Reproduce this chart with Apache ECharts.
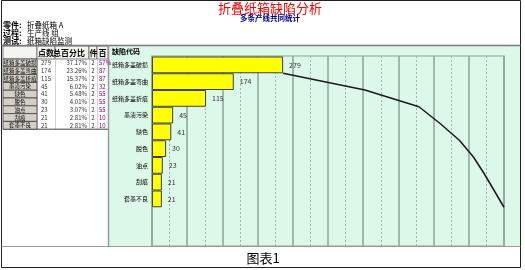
<!DOCTYPE html>
<html>
<head>
<meta charset="utf-8">
<script src="https://cdn.jsdelivr.net/npm/echarts@6/dist/echarts.min.js"></script>
<style>
html,body{margin:0;padding:0;background:#fff;}
#main{width:525px;height:270px;}
</style>
</head>
<body>
<div id="main"></div>
<script>
// ---- data ----
const categories = ['纸箱多盖破损','纸箱多盖弯曲','纸箱多盖折痕','墨渍污染','缺色','脱色','油点','刮痕','套墨不良'];
const counts = [279, 174, 115, 45, 41, 30, 23, 21, 21];
const cumulative = [279, 453, 568, 613, 654, 684, 707, 728, 749];
const percentLabels = ['37.17%','23.26%','15.37%','6.02%','5.48%','4.01%','3.07%','2.81%','2.81%'];
const pieceCol = ['2','2','2','2','2','2','2','2','2'];
const pctCol = ['57%','87','87','32','55','55','55','10','10'];
const headerCols = ['点数','总百分比','件','百'];
const infoLabels = ['零件:','过程:','测试:'];
const infoValues = ['折叠纸箱 A','生产线 组','纸箱缺陷监测'];
const titleText = '折叠纸箱缺陷分析';
const subtitleText = '多条产线共同统计';
const captionText = '图表1';
const axisTitle = '缺陷代码';

const FONT = '"Noto Sans CJK SC", "Noto Sans", sans-serif';
const total = cumulative[cumulative.length - 1];

const chart = echarts.init(document.getElementById('main'), null, {renderer: 'canvas'});

// ---- decoration / table graphics ----
const g = [];
g.push({type:'rect', z:-5, shape:{x:109, y:46, width:411, height:200}, style:{fill:'#dbf8e8'}});
g.push({type:'rect', z:10, shape:{x:1.5, y:0.5, width:519, height:267}, style:{fill:'none', stroke:'#222', lineWidth:1}});
g.push({type:'line', z:10, shape:{x1:1.5, y1:45.5, x2:520.5, y2:45.5}, style:{stroke:'#7a7a7a', lineWidth:1.5}});
g.push({type:'line', z:10, shape:{x1:108.5, y1:45.5, x2:108.5, y2:246}, style:{stroke:'#9a9a9a', lineWidth:1.5}});
g.push({type:'line', z:10, shape:{x1:1.5, y1:246.5, x2:520.5, y2:246.5}, style:{stroke:'#9a9a9a', lineWidth:1}});

g.push({type:'text', z:10, style:{text:titleText, x:270, y:8.5, fill:'#ff0000', font:'13px ' + FONT, textAlign:'center', textVerticalAlign:'middle'}});
g.push({type:'text', z:10, style:{text:subtitleText, x:270, y:18.5, fill:'#000080', font:'bold 7.5px ' + FONT, textAlign:'center', textVerticalAlign:'middle'}});
infoLabels.forEach((t, i) => {
  g.push({type:'text', z:10, style:{text:t, x:3, y:25 + i*8, fill:'#000', font:'bold 8px ' + FONT, textAlign:'left', textVerticalAlign:'middle'}});
  g.push({type:'text', z:10, style:{text:infoValues[i], x:27, y:25 + i*8, fill:'#000', font:'7.5px ' + FONT, textAlign:'left', textVerticalAlign:'middle'}});
});
g.push({type:'text', z:10, style:{text:axisTitle, x:112, y:51, fill:'#000', font:'bold 7px ' + FONT, textAlign:'left', textVerticalAlign:'middle'}});

const colX = [3, 37, 55, 89, 97, 108];
const headTop = 46, rowTop = 59, rh = 7.8;
const tableBottom = rowTop + rh * categories.length;
for (let c = 0; c < 5; c++) {
  g.push({type:'rect', z:9, shape:{x:colX[c], y:headTop, width:colX[c+1]-colX[c], height:rowTop-headTop}, style:{fill:'#f4f4f0', stroke:'#606060', lineWidth:0.8}});
}
const headCenters = [46, 69, 93.5, 102.5];
headerCols.forEach((t, i) => {
  g.push({type:'text', z:10, style:{text:t, x:headCenters[i], y:53, fill:'#000', font:'bold 8px ' + FONT, textAlign:'center', textVerticalAlign:'middle'}});
});
for (let c = 1; c < 5; c++) {
  g.push({type:'line', z:9, shape:{x1:colX[c]+0.5, y1:rowTop, x2:colX[c]+0.5, y2:tableBottom}, style:{stroke:'#c8c8c8', lineWidth:0.8}});
}
g.push({type:'line', z:9, shape:{x1:colX[0], y1:tableBottom, x2:colX[5], y2:tableBottom}, style:{stroke:'#404040', lineWidth:1}});
categories.forEach((name, i) => {
  const y0 = rowTop + i * rh, yc = y0 + rh/2;
  g.push({type:'rect', z:9, shape:{x:colX[0], y:y0, width:colX[1]-colX[0], height:rh}, style:{fill:'#d4d0c8', stroke:'#404040', lineWidth:0.8}});
  g.push({type:'text', z:10, style:{text:name, x:20, y:yc, fill:'#000', font:'5.5px ' + FONT, textAlign:'center', textVerticalAlign:'middle'}});
  g.push({type:'text', z:10, style:{text:String(counts[i]), x:41, y:yc, fill:'#333', font:'6px ' + FONT, textAlign:'left', textVerticalAlign:'middle'}});
  g.push({type:'text', z:10, style:{text:percentLabels[i], x:87, y:yc, fill:'#333', font:'6px ' + FONT, textAlign:'right', textVerticalAlign:'middle'}});
  g.push({type:'text', z:10, style:{text:pieceCol[i], x:93, y:yc, fill:'#333', font:'6px ' + FONT, textAlign:'center', textVerticalAlign:'middle'}});
  g.push({type:'text', z:10, style:{text:pctCol[i], x:99, y:yc, fill:'#800080', font:'6px ' + FONT, textAlign:'left', textVerticalAlign:'middle'}});
});
g.push({type:'text', z:10, style:{text:captionText, x:263, y:258, fill:'#000', font:'13px ' + FONT, textAlign:'center', textVerticalAlign:'middle'}});

const option = {
  animation: false,
  backgroundColor: '#fff',
  textStyle: {fontFamily: FONT},
  graphic: {elements: g},
  grid: [
    {left:152, top:56.5, width:352, height:150.75, containLabel:false},
    {left:152, top:56, width:352, height:190, show:true, borderColor:'#8ea596', borderWidth:1.2, backgroundColor:'transparent', containLabel:false}
  ],
  xAxis: [
    {gridIndex:0, type:'value', min:0, max:total, show:false},
    {gridIndex:1, type:'value', min:0, max:10, interval:1, position:'top',
     axisLabel:{show:false}, axisLine:{show:false}, axisTick:{show:false},
     splitLine:{show:true, lineStyle:{color:'#8ea596', width:1.5}},
     minorTick:{show:false, splitNumber:2},
     minorSplitLine:{show:true, lineStyle:{color:'#a9b3ad', width:1, type:[2,2]}}}
  ],
  yAxis: [
    {gridIndex:0, type:'category', inverse:true, data:categories,
     axisLine:{show:false}, axisTick:{show:false}, splitLine:{show:false},
     axisLabel:{fontSize:6, color:'#000', margin:4, fontFamily:FONT}},
    {gridIndex:0, type:'value', min:0, max:categories.length, inverse:true, show:false},
    {gridIndex:1, type:'value', min:0, max:1, show:false}
  ],
  series: [
    {type:'bar', xAxisIndex:0, yAxisIndex:0, data:counts, barCategoryGap:'0%', z:3,
     itemStyle:{color:'#ffff00', borderColor:'#404040', borderWidth:1},
     label:{show:true, position:'right', distance:6, fontSize:7, color:'#333', fontFamily:FONT}},
    {type:'line', xAxisIndex:0, yAxisIndex:1, z:4, showSymbol:false, symbol:'none',
     data: cumulative.map((c, i) => [c, i + 1]),
     lineStyle:{color:'#1a1a1a', width:1.5}}
  ]
};
chart.setOption(option);
</script>
</body>
</html>
